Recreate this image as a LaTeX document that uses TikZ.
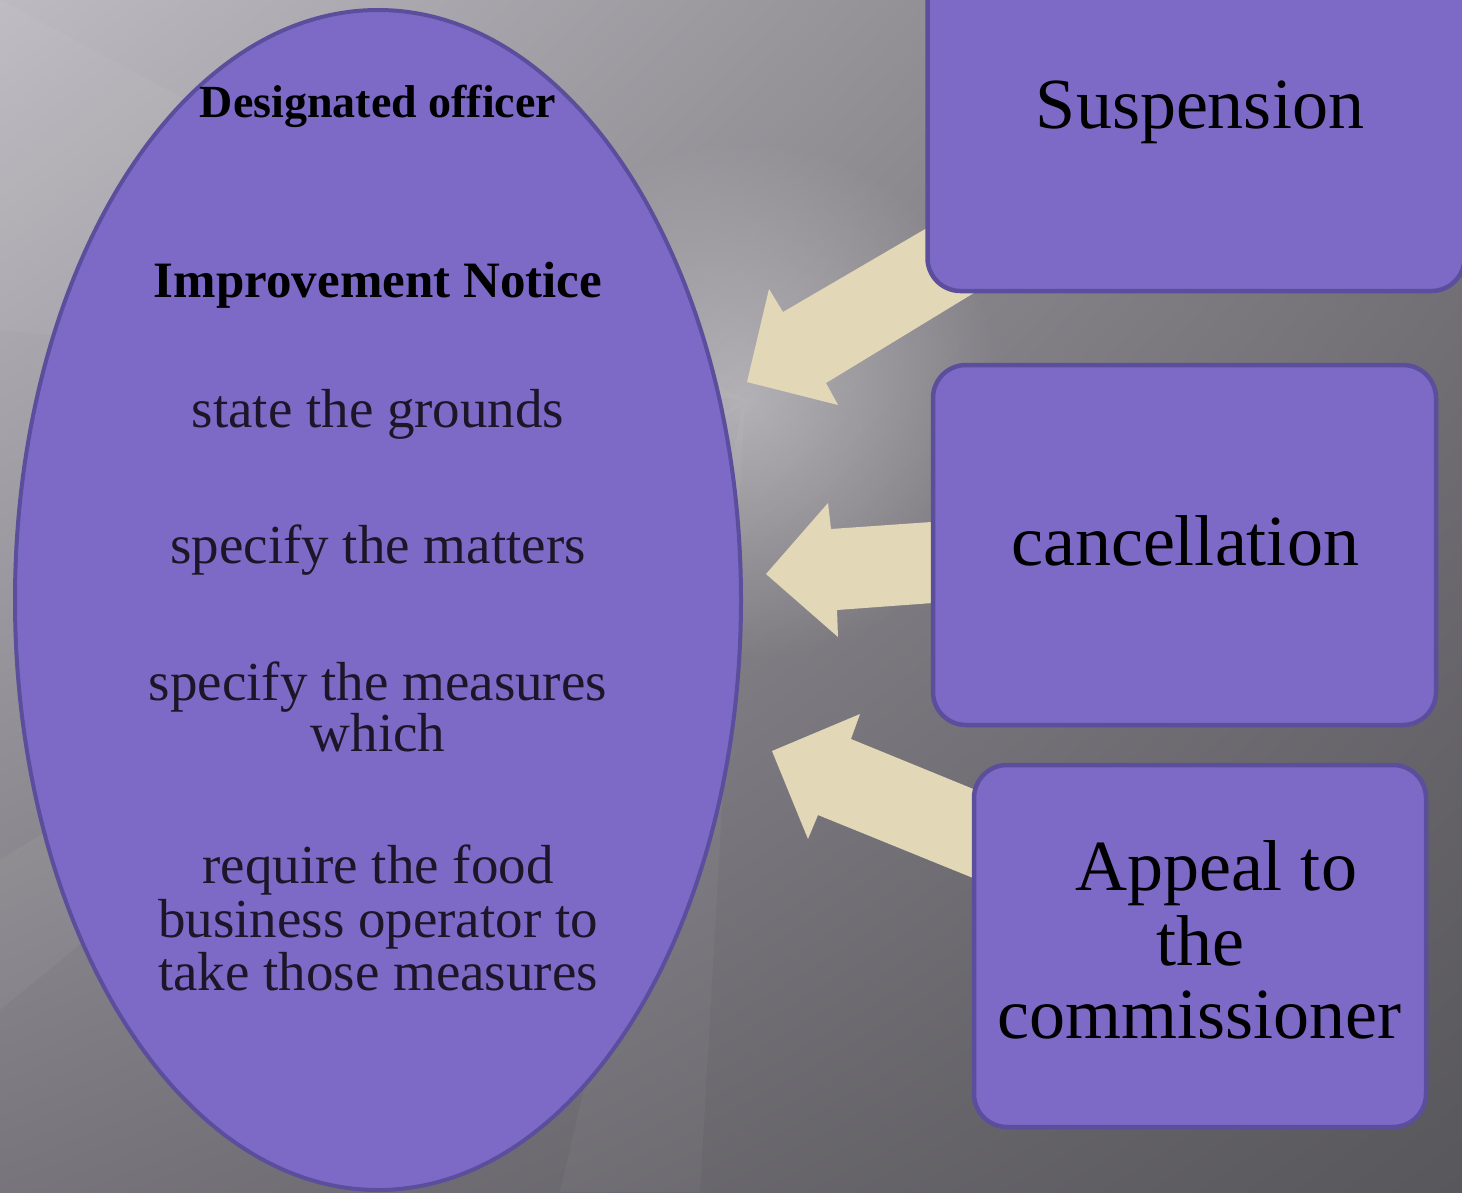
\documentclass[tikz,border=0pt]{standalone}
\usepackage{fontspec}
\setmainfont{Liberation Serif}
\usetikzlibrary{shapes.geometric,fadings,shadings}
\definecolor{boxfill}{HTML}{7D6AC7}
\definecolor{boxline}{HTML}{5B4E9C}
\definecolor{arrowfill}{HTML}{E2D8B7}
\definecolor{ink}{HTML}{1C1628}
\definecolor{bgA}{HTML}{BDBAC1}
\definecolor{bgB}{HTML}{7A777D}
\definecolor{bgC}{HTML}{77757B}
\definecolor{bgD}{HTML}{58575C}
\tikzfading[name=glowfade, inner color=transparent!0, outer color=transparent!100]
\begin{document}
\begin{tikzpicture}[x=1pt,y=-1pt,
  shapebox/.style={draw=boxline, fill=boxfill, line width=4.5pt, rounded corners=33pt, inner sep=0pt},
  oval/.style={ellipse, draw=boxline, fill=boxfill, line width=4pt, inner sep=0pt},
  blockarrow/.style={fill=arrowfill},
  boldtxt/.style={anchor=base, text=black, inner sep=0pt, font=\fontsize{#1}{#1}\selectfont\bfseries},
  ovaltxt/.style={anchor=base, text=ink, inner sep=0pt, font=\fontsize{55}{55}\selectfont},
  boxtxt/.style={anchor=base, text=black, inner sep=0pt, font=\fontsize{72}{72}\selectfont}]
\useasboundingbox (0,0) rectangle (1462,1192);
\begin{scope}
\clip (0,0) rectangle (1462,1192);
% background
\shade[upper left=bgA, upper right=bgB, lower left=bgC, lower right=bgD] (0,0) rectangle (1462,1192);
\fill[white, opacity=0.35, path fading=glowfade] (745,400) circle (260);
\fill[white, opacity=0.045] (745,400) -- (0,860) -- (0,1010) -- cycle;
\fill[white, opacity=0.04] (745,400) -- (560,1192) -- (700,1192) -- cycle;
\fill[white, opacity=0.04] (745,400) -- (0,0) -- (0,330) -- cycle;

% oval
\node[oval, minimum width=726, minimum height=1180] (officer) at (378,600) {};

% block arrows
\fill[blockarrow] (747,382) -- (838,405) -- (826,383) -- (1010,271) -- (975,200) -- (783,312) -- (769,289) -- cycle;
\fill[blockarrow] (766,574) -- (828,503) -- (831,529) -- (960,520) -- (960,601) -- (837,610) -- (838,637) -- cycle;
\fill[blockarrow] (772,751) -- (860,714) -- (851,739) -- (1010,804) -- (1010,893) -- (818,815) -- (808,839) -- cycle;

% boxes
\node[shapebox, minimum width=537, minimum height=330] (susp) at (1196,126) {};
\node[shapebox, minimum width=503, minimum height=360] (cancel) at (1184.5,545) {};
\node[shapebox, minimum width=452, minimum height=362] (appeal) at (1200,946) {};

% oval texts
\node[boldtxt=46] (t1) at (378,117) {Designated officer};
\node[boldtxt=51] (t2) at (378,297) {Improvement Notice};
\node[ovaltxt] (t3) at (378,427) {state the grounds};
\node[ovaltxt] (t4) at (378,563) {specify the matters};
\node[ovaltxt] (t5) at (378,700) {specify the measures};
\node[ovaltxt] (t6) at (378,751) {which};
\node[ovaltxt] (t7) at (378,883) {require the food};
\node[ovaltxt] (t8) at (378,937) {business operator to};
\node[ovaltxt] (t9) at (378,990) {take those measures};

% box texts
\node[boxtxt] (s1) at (1200,128) {Suspension};
\node[boxtxt] (c1) at (1185,565) {cancellation};
\node[boxtxt] (a1) at (1216,890) {Appeal to};
\node[boxtxt] (a2) at (1200,965) {the};
\node[boxtxt] (a3) at (1199,1038) {commissioner};
\end{scope}
\end{tikzpicture}
\end{document}
